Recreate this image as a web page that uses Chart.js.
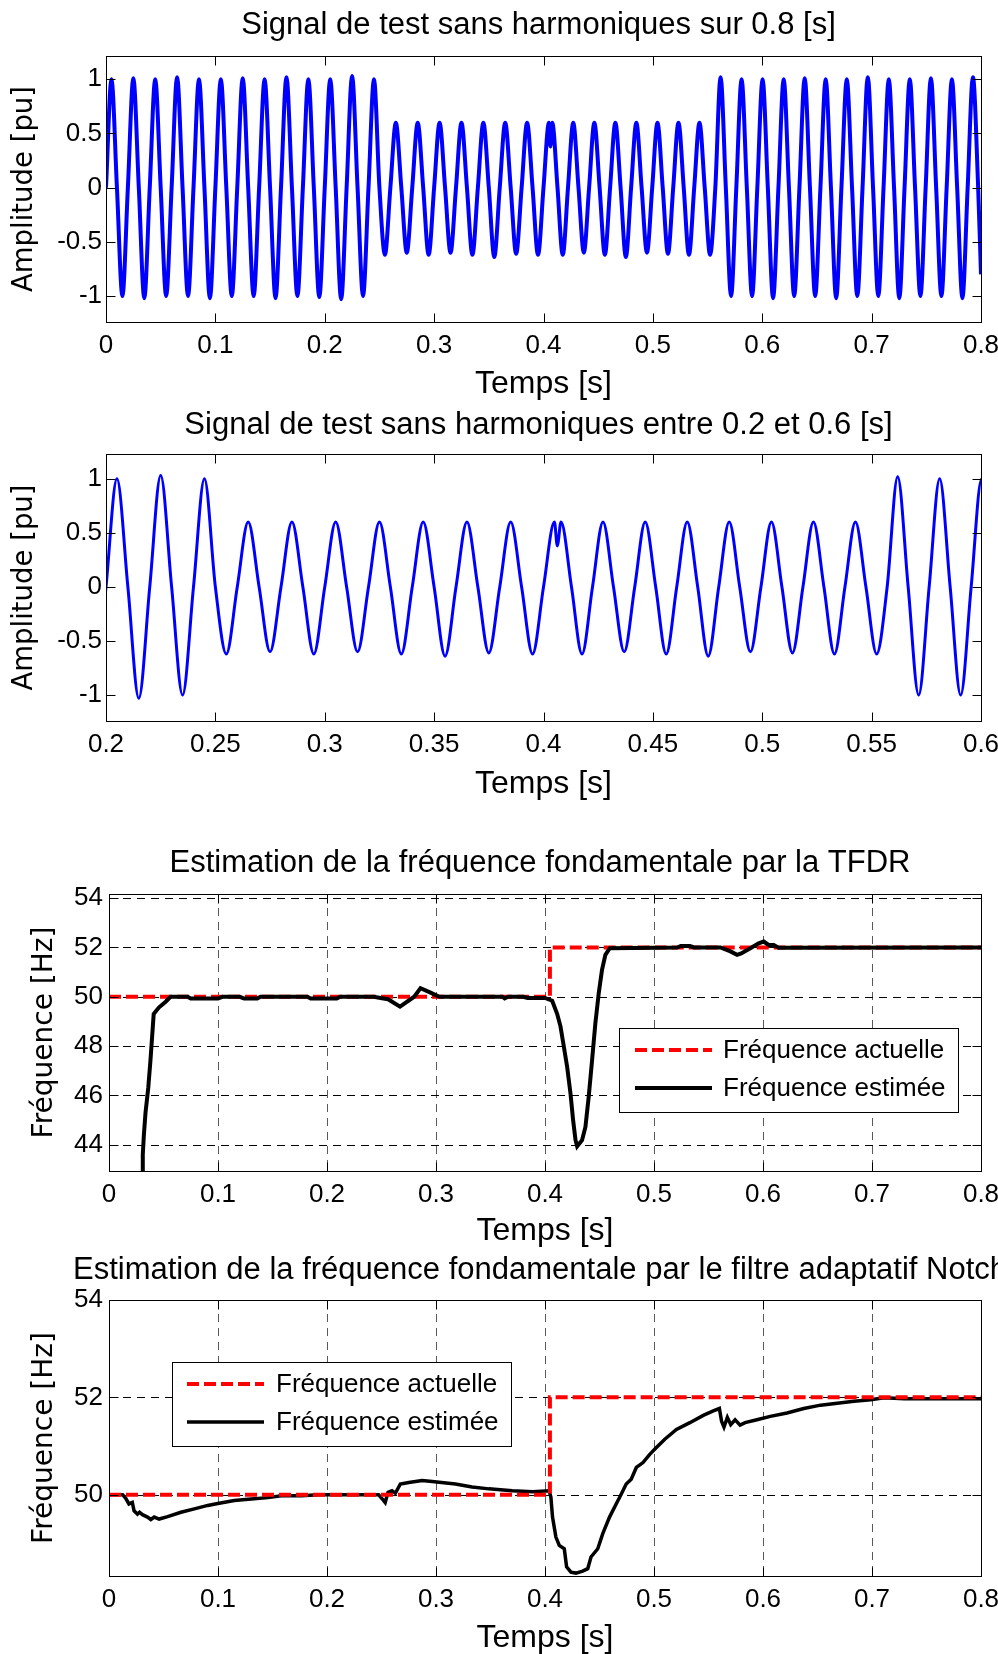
<!DOCTYPE html>
<html lang="fr">
<head>
<meta charset="UTF-8" />
<title>Estimation de la fréquence fondamentale</title>
<script src="https://cdn.jsdelivr.net/npm/chart.js"></script>
<style>
  html, body { margin: 0; padding: 0; background: #fff; }
  body { width: 998px; height: 1654px; overflow: hidden; position: relative; }
  canvas { position: absolute; left: 0; }
</style>
</head>
<body>
<canvas id="c1"></canvas>
<canvas id="c2"></canvas>
<canvas id="c3"></canvas>
<canvas id="c4"></canvas>

<script>
// --- signal de test (pics, passages par zéro, creux) ---
const sigTime = [
  0, 0.005, 0.01, 0.015, 0.02, 0.025, 0.03, 0.035, 0.04, 0.045, 0.05, 0.055, 0.06, 0.065, 0.07, 0.075,
  0.08, 0.085, 0.09, 0.095, 0.1, 0.105, 0.11, 0.115, 0.12, 0.125, 0.13, 0.135, 0.14, 0.145, 0.15, 0.155,
  0.16, 0.165, 0.17, 0.175, 0.18, 0.185, 0.19, 0.195, 0.2, 0.205, 0.21, 0.215, 0.22, 0.225, 0.23, 0.235,
  0.24, 0.245, 0.25,
  0.255, 0.26, 0.265, 0.27, 0.275, 0.28, 0.285, 0.29, 0.295, 0.3, 0.305, 0.31, 0.315, 0.32, 0.325, 0.33,
  0.335, 0.34, 0.345, 0.35, 0.355, 0.36, 0.365, 0.37, 0.375, 0.38, 0.385, 0.39, 0.395, 0.4, 0.405,
  0.4063, 0.408,
  0.4128, 0.4176, 0.4224, 0.4272, 0.432, 0.4369, 0.4417, 0.4465, 0.4513, 0.4561, 0.4609, 0.4657, 0.4705,
  0.4753, 0.4801, 0.4849, 0.4897, 0.4946, 0.4994, 0.5042, 0.509, 0.5138, 0.5186, 0.5234, 0.5282, 0.533,
  0.5378, 0.5426, 0.5474, 0.5523, 0.5571,
  0.5619, 0.5667, 0.5715, 0.5763, 0.5811, 0.5859, 0.5907, 0.5955, 0.6003, 0.6051, 0.6099, 0.6148, 0.6196,
  0.6244, 0.6292, 0.634, 0.6388, 0.6436, 0.6484, 0.6532, 0.658, 0.6628, 0.6676, 0.6724, 0.6773, 0.6821,
  0.6869, 0.6917, 0.6965, 0.7013, 0.7061, 0.7109, 0.7157, 0.7205, 0.7253, 0.7301, 0.7349, 0.7397, 0.7446,
  0.7494, 0.7542, 0.759, 0.7638, 0.7686, 0.7734, 0.7782, 0.783, 0.7878, 0.7926, 0.7974, 0.8
];
const sigAmp = [
  0, 1, 0, -1, 0, 1.01, 0, -1.02, 0, 1, 0, -1, 0, 1.02, 0, -1,
  0, 1, 0, -1.02, 0, 1, 0, -1, 0, 1.01, 0, -1, 0, 1, 0, -1.02,
  0, 1.02, 0, -1, 0, 1, 0, -1.01, 0, 1, 0, -1.03, 0, 1.03, 0, -1,
  0, 1, 0,
  -0.62, 0, 0.6, 0, -0.6, 0, 0.6, 0, -0.62, 0, 0.6, 0, -0.6, 0, 0.6, 0,
  -0.62, 0, 0.6, 0, -0.64, 0, 0.6, 0, -0.61, 0, 0.6, 0, -0.62, 0, 0.6,
  0.38, 0.6,
  0, -0.62, 0, 0.6, 0, -0.6, 0, 0.6, 0, -0.62, 0, 0.6, 0,
  -0.64, 0, 0.6, 0, -0.6, 0, 0.6, 0, -0.61, 0, 0.6, 0, -0.62,
  0, 0.6, 0, -0.62, 0,
  1.02, 0, -1, 0, 1, 0, -1, 0, 1, 0, -1.02, 0, 1,
  0, -1, 0, 1.01, 0, -1, 0, 1, 0, -1.02, 0, 1, 0,
  -1, 0, 1.02, 0, -1, 0, 1, 0, -1.02, 0, 1, 0, -1,
  0, 1.01, 0, -1, 0, 1, 0, -1.02, 0, 1.02, 0, -0.8
];

// --- fréquence actuelle (échelon) ---
const actTime = [0, 0.4045, 0.4045, 0.8];
const actFreq = [50, 50, 52, 52];

// --- fréquence estimée par la TFDR ---
const tfdrTime = [
  0.0305, 0.031, 0.032, 0.0335, 0.036, 0.038, 0.0396, 0.041, 0.0457, 0.052, 0.0564, 0.072, 0.075, 0.1,
  0.104, 0.12, 0.124, 0.136, 0.139, 0.182, 0.185, 0.209, 0.212, 0.243, 0.249, 0.256, 0.267, 0.28, 0.2858,
  0.295, 0.303, 0.361, 0.363, 0.366, 0.38, 0.384, 0.4, 0.4066, 0.4112, 0.4142, 0.4173, 0.4203, 0.4234,
  0.4258, 0.428, 0.4295, 0.434, 0.4371, 0.4401, 0.4432, 0.4462, 0.4493, 0.4523, 0.4554, 0.4594, 0.5213,
  0.5245, 0.533, 0.5367, 0.5609, 0.5701, 0.5762, 0.58, 0.5884, 0.596, 0.6006, 0.6052, 0.6098, 0.6144, 0.8
];
const tfdrFreq = [
  42.0, 43.6, 44.4, 45.3, 46.3, 47.4, 48.4, 49.3, 49.56, 49.8, 50.0, 50.0, 49.93, 49.93,
  50.0, 50.0, 49.93, 49.93, 50.0, 50.0, 49.93, 49.93, 50.0, 50.0, 49.95, 49.9, 49.6, 50.0, 50.35,
  50.17, 50.0, 50.0, 49.93, 50.0, 50.0, 49.95, 49.95, 49.84, 49.3, 48.8, 47.97, 47.16, 46.07,
  44.99, 44.18, 43.93, 44.18, 44.72, 45.94, 47.43, 48.92, 50.14, 51.09, 51.7, 51.97, 52.0,
  52.06, 52.06, 52.0, 52.0, 51.84, 51.7, 51.76, 51.97, 52.17, 52.24, 52.1, 52.1, 51.99, 52.0
];

// --- fréquence estimée par le filtre adaptatif Notch ---
const notchTime = [
  0, 0.0125, 0.0152, 0.0183, 0.0214, 0.023, 0.0261, 0.028, 0.0307, 0.0353, 0.0384, 0.0415, 0.046, 0.0538,
  0.066, 0.0783, 0.0906, 0.0998, 0.115, 0.1305, 0.146, 0.158, 0.1766, 0.192, 0.2473, 0.252, 0.2534, 0.256,
  0.2596, 0.2627, 0.2673, 0.275, 0.2873, 0.2965, 0.3178, 0.3331, 0.3485, 0.37, 0.3885, 0.4038, 0.4054,
  0.4069, 0.41, 0.4131, 0.4177, 0.4198, 0.4238, 0.4284, 0.4346, 0.4392, 0.4422, 0.4484, 0.453, 0.4592,
  0.4653, 0.4699, 0.4745, 0.4791, 0.4838, 0.4899, 0.4961, 0.5022, 0.5099, 0.5206, 0.5329, 0.5452, 0.5544,
  0.56, 0.562, 0.5642, 0.5673, 0.5704, 0.5744, 0.579, 0.5836, 0.5944, 0.6067, 0.622, 0.6374, 0.6528,
  0.6681, 0.6835, 0.6988, 0.7111, 0.7296, 0.8
];
const notchFreq = [
  50, 50, 49.93, 49.81, 49.84, 49.67, 49.6, 49.64, 49.59, 49.54, 49.49, 49.54, 49.5, 49.55,
  49.64, 49.71, 49.78, 49.82, 49.88, 49.91, 49.94, 49.98, 49.98, 50.0, 50.0, 49.88, 49.84, 50.05,
  50.08, 50.03, 50.22, 50.25, 50.29, 50.27, 50.22, 50.16, 50.12, 50.08, 50.06, 50.08, 49.95,
  49.54, 49.13, 48.96, 48.89, 48.52, 48.41, 48.39, 48.43, 48.48, 48.72, 48.89, 49.2, 49.54,
  49.81, 50.01, 50.22, 50.32, 50.56, 50.66, 50.83, 50.97, 51.14, 51.34, 51.48, 51.63, 51.72,
  51.77, 51.51, 51.39, 51.59, 51.44, 51.54, 51.43, 51.48, 51.54, 51.61, 51.68, 51.77, 51.84,
  51.88, 51.92, 51.95, 51.99, 51.97, 51.97
];

// --- graduations ---
const ticksTime = [0, 0.1, 0.2, 0.3, 0.4, 0.5, 0.6, 0.7, 0.8];
const ticksZoom = [0.2, 0.25, 0.3, 0.35, 0.4, 0.45, 0.5, 0.55, 0.6];
const ticksAmp = [-1, -0.5, 0, 0.5, 1];
const ticksTfdr = [44, 46, 48, 50, 52, 54];
const ticksNotch = [50, 52, 54];

const W = 1040;
const SANS = "'Liberation Sans', Arial, sans-serif";

function pts(t, v) { return t.map((x, i) => ({ x, y: v[i] })); }

function decor(o) {
  return {
    id: 'decor',
    beforeDatasetsDraw(chart) {
      if (!o.grid) return;
      const { ctx, chartArea: a } = chart;
      const x = chart.scales.x, y = chart.scales.y;
      ctx.save();
      ctx.lineWidth = 1;
      ctx.setLineDash([8, 6]);
      ctx.strokeStyle = '#5a5a5a';
      o.xTicks.forEach(v => {
        const px = Math.round(x.getPixelForValue(v)) + 0.5;
        if (px < a.left + 3 || px > a.right - 3) return;
        ctx.beginPath(); ctx.moveTo(px, a.top); ctx.lineTo(px, a.bottom); ctx.stroke();
      });
      ctx.strokeStyle = '#000';
      o.yTicks.forEach(v => {
        const py = Math.round(y.getPixelForValue(v)) + 0.5;
        if (py < a.top + 3 || py > a.bottom - 3) return;
        ctx.beginPath(); ctx.moveTo(a.left, py); ctx.lineTo(a.right, py); ctx.stroke();
      });
      ctx.restore();
    },
    afterDatasetsDraw(chart) {
      const { ctx, chartArea: a } = chart;
      const x = chart.scales.x, y = chart.scales.y;
      const l = Math.round(a.left) + 0.5, r = Math.round(a.right) + 0.5;
      const t = Math.round(a.top) + 0.5, b = Math.round(a.bottom) + 0.5;
      ctx.save();
      ctx.setLineDash([]);
      ctx.strokeStyle = '#000';
      ctx.lineWidth = 1;
      ctx.strokeRect(l, t, r - l, b - t);
      const tk = 9;
      ctx.beginPath();
      o.xTicks.forEach(v => {
        const px = Math.round(x.getPixelForValue(v)) + 0.5;
        ctx.moveTo(px, b); ctx.lineTo(px, b - tk);
        ctx.moveTo(px, t); ctx.lineTo(px, t + tk);
      });
      o.yTicks.forEach(v => {
        const py = Math.round(y.getPixelForValue(v)) + 0.5;
        ctx.moveTo(l, py); ctx.lineTo(l + tk, py);
        ctx.moveTo(r, py); ctx.lineTo(r - tk, py);
      });
      ctx.stroke();

      if (o.legend) {
        const L = o.legend;
        ctx.fillStyle = '#fff';
        ctx.fillRect(L.x1, L.y1, L.x2 - L.x1, L.y2 - L.y1);
        ctx.strokeRect(L.x1 + 0.5, L.y1 + 0.5, L.x2 - L.x1, L.y2 - L.y1);
        ctx.font = '26px ' + SANS;
        ctx.textAlign = 'left';
        ctx.textBaseline = 'middle';
        chart.data.datasets.forEach((ds, i) => {
          const ry = L.rows[i];
          ctx.strokeStyle = ds.borderColor;
          ctx.lineWidth = ds.borderWidth;
          ctx.setLineDash(ds.borderDash || []);
          ctx.beginPath(); ctx.moveTo(L.sx1, ry); ctx.lineTo(L.sx2, ry); ctx.stroke();
          ctx.fillStyle = '#000';
          ctx.fillText(ds.label, L.tx, ry + 1);
        });
      }
      ctx.restore();
    },
    afterDraw(chart) {
      const { ctx, chartArea: a } = chart;
      ctx.save();
      ctx.font = '31px ' + SANS;
      ctx.fillStyle = '#000';
      ctx.textAlign = 'center';
      ctx.textBaseline = 'middle';
      ctx.fillText(o.title, (a.left + a.right) / 2 - 5, o.titleY);
      ctx.restore();
    }
  };
}

function makeChart(id, o) {
  const cv = document.getElementById(id);
  cv.width = W; cv.height = o.h;
  cv.style.width = W + 'px'; cv.style.height = o.h + 'px';
  cv.style.top = o.top + 'px';
  return new Chart(cv, {
    type: 'line',
    data: { datasets: o.datasets },
    options: {
      responsive: false,
      animation: false,
      devicePixelRatio: 1,
      layout: { padding: { left: 0, top: o.plotTop, right: W - o.plotRight, bottom: 0 } },
      elements: { point: { radius: 0 } },
      plugins: { legend: { display: false }, tooltip: { enabled: false }, title: { display: false } },
      scales: {
        x: {
          type: 'linear', min: o.xMin, max: o.xMax,
          afterBuildTicks: s => { s.ticks = o.xTicks.map(v => ({ value: v })); },
          afterFit: s => { s.height = o.h - o.plotBottom; },
          grid: { display: false, drawTicks: false },
          border: { display: false },
          ticks: { color: '#000', font: { family: SANS, size: 26 }, padding: 8, maxRotation: 0, autoSkip: false,
                   callback: v => String(v) },
          title: { display: true, text: 'Temps [s]', color: '#000', font: { family: SANS, size: 32 },
                   padding: { top: 0, bottom: 0 } }
        },
        y: {
          type: 'linear', min: o.yMin, max: o.yMax,
          afterBuildTicks: s => { s.ticks = o.yTicks.map(v => ({ value: v })); },
          afterFit: s => { s.width = o.plotLeft; },
          grid: { display: false, drawTicks: false },
          border: { display: false },
          ticks: { color: '#000', font: { family: SANS, size: 26 }, padding: o.yTickPad, autoSkip: false,
                   callback: v => String(v) },
          title: { display: true, text: o.yTitle, color: '#000', font: { family: 'DejaVu Sans', size: o.yTitleSize },
                   padding: { top: o.yTitlePad, bottom: 0 } }
        }
      }
    },
    plugins: [decor(o)]
  });
}

const sigLine = (w) => ({
  label: 'Signal', data: pts(sigTime, sigAmp), borderColor: '#0000ff', borderWidth: w,
  cubicInterpolationMode: 'monotone', fill: false
});

makeChart('c1', {
  top: 0, h: 403, plotTop: 56, plotBottom: 322, plotLeft: 106, plotRight: 981, titleY: 25.3,
  xMin: 0, xMax: 0.8, yMin: -1.24, yMax: 1.215, xTicks: ticksTime, yTicks: ticksAmp,
  yTitle: 'Amplitude [pu]', yTitleSize: 27.5, yTitlePad: 8.3, yTickPad: 4,
  title: 'Signal de test sans harmoniques sur 0.8 [s]',
  datasets: [sigLine(4)]
});

makeChart('c2', {
  top: 400, h: 403, plotTop: 54, plotBottom: 321, plotLeft: 106, plotRight: 981, titleY: 25.2,
  xMin: 0.2, xMax: 0.6, yMin: -1.24, yMax: 1.23, xTicks: ticksZoom, yTicks: ticksAmp,
  yTitle: 'Amplitude [pu]', yTitleSize: 27.5, yTitlePad: 8.3, yTickPad: 4,
  title: 'Signal de test sans harmoniques entre 0.2 et 0.6 [s]',
  datasets: [sigLine(3)]
});

makeChart('c3', {
  top: 820, h: 430, plotTop: 74, plotBottom: 351, plotLeft: 109, plotRight: 981, titleY: 43.4,
  xMin: 0, xMax: 0.8, yMin: 42.93, yMax: 54.17, xTicks: ticksTime, yTicks: ticksTfdr, grid: true,
  yTitle: 'Fréquence [Hz]', yTitleSize: 28, yTitlePad: 27.5, yTickPad: 6,
  title: 'Estimation de la fréquence fondamentale par la TFDR',
  legend: { x1: 619, y1: 208, x2: 958, y2: 292, rows: [230, 268], sx1: 635, sx2: 712, tx: 723 },
  datasets: [
    { label: 'Fréquence actuelle', data: pts(actTime, actFreq), borderColor: '#ff0000', borderWidth: 4,
      borderDash: [12, 5], tension: 0, order: 2 },
    { label: 'Fréquence estimée', data: pts(tfdrTime, tfdrFreq), borderColor: '#000000', borderWidth: 4,
      tension: 0, order: 1 }
  ]
});

makeChart('c4', {
  top: 1247, h: 410, plotTop: 53, plotBottom: 329, plotLeft: 109, plotRight: 981, titleY: 23.9,
  xMin: 0, xMax: 0.8, yMin: 48.33, yMax: 54, xTicks: ticksTime, yTicks: ticksNotch, grid: true,
  yTitle: 'Fréquence [Hz]', yTitleSize: 28, yTitlePad: 27.5, yTickPad: 6,
  title: 'Estimation de la fréquence fondamentale par le filtre adaptatif Notch',
  legend: { x1: 172, y1: 115, x2: 511, y2: 199, rows: [137, 175], sx1: 187, sx2: 264, tx: 276 },
  datasets: [
    { label: 'Fréquence actuelle', data: pts(actTime, actFreq), borderColor: '#ff0000', borderWidth: 4,
      borderDash: [12, 5], tension: 0, order: 1 },
    { label: 'Fréquence estimée', data: pts(notchTime, notchFreq), borderColor: '#000000', borderWidth: 3.5,
      tension: 0, order: 2 }
  ]
});
</script>
</body>
</html>
